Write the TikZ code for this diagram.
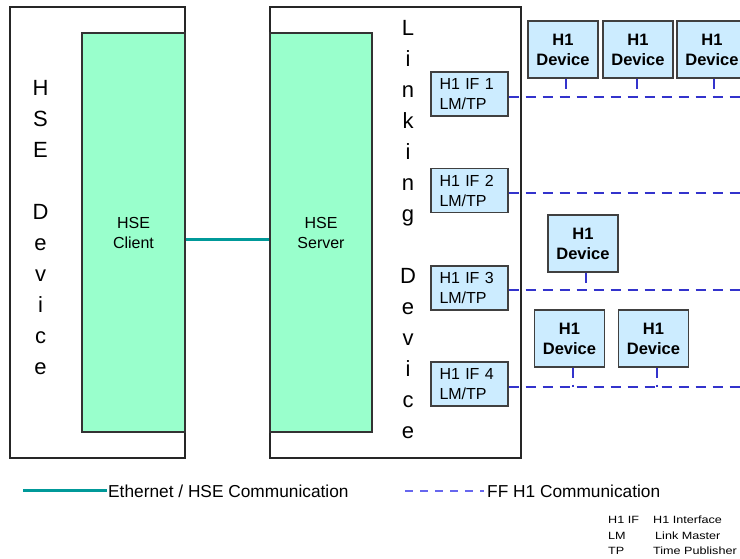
\documentclass[tikz,border=0pt]{standalone}
\usepackage{fontspec}
\setmainfont{Liberation Sans}
\newfontfamily\widesans[FakeStretch=1.2]{Liberation Sans}
\definecolor{hsegreen}{HTML}{99FFCC}
\definecolor{hoblue}{HTML}{CCECFF}
\definecolor{ethteal}{HTML}{009999}
\definecolor{hodash}{HTML}{3333CC}
\definecolor{legdash}{HTML}{6666EE}
\begin{document}
\begin{tikzpicture}[x=1pt,y=-1pt,
  outerbox/.style={draw=black!85, line width=1.3pt, inner sep=0pt},
  greenbox/.style={draw=black!80, fill=hsegreen, line width=1.3pt, inner sep=0pt, align=center, font=\fontsize{16}{20}\selectfont},
  ifbox/.style={draw=black!75, fill=hoblue, line width=1.3pt, minimum width=77pt, minimum height=44pt, text width=60pt, inner xsep=8.5pt, inner ysep=0pt, align=left, font=\fontsize{16}{20}\selectfont},
  devbox/.style={draw=black!75, fill=hoblue, line width=1.3pt, minimum width=70pt, minimum height=57pt, inner sep=0pt, align=center, font=\fontsize{16.5}{20}\selectfont\bfseries},
  vtext/.style={align=center, inner sep=0pt, font=\fontsize{22}{31}\selectfont},
  ethline/.style={draw=ethteal, line width=3pt},
  holine/.style={draw=hodash, line width=2.8pt, dash pattern=on 10pt off 7pt},
  legline/.style={draw=legdash, line width=1.6pt, dash pattern=on 8pt off 7pt},
  legtext/.style={anchor=west, inner sep=0pt, font=\fontsize{17.3}{20}\selectfont},
  smalltext/.style={anchor=west, inner sep=0pt, font=\widesans\fontsize{10.5}{12}\selectfont}
]
\useasboundingbox (0,0) rectangle (740,558);

% outer devices
\node[outerbox, minimum width=175pt, minimum height=451pt] (hsedev) at (97.5,232.5) {};
\node[outerbox, minimum width=251pt, minimum height=451pt] (linkdev) at (395.5,232.5) {};

% green boxes
\node[greenbox, minimum width=103pt, minimum height=399pt] (client) at (133.5,232.5) {HSE\\Client};
\node[greenbox, minimum width=102pt, minimum height=399pt] (server) at (321,232.5) {HSE\\Server};

% vertical labels
\node[vtext] (hselbl) at (40.5,228) {H\\S\\E\\[31pt]D\\e\\v\\i\\c\\e};
\node[vtext] (linklbl) at (408,230) {L\\i\\n\\k\\i\\n\\g\\[31pt]D\\e\\v\\i\\c\\e};

% Ethernet connection
\draw[ethline] ([yshift=-6.5pt]client.east) -- ([yshift=-6.5pt]server.west);

% H1 interfaces
\node[ifbox] (if1) at (469.5,94) {H1 IF 1\\LM/TP};
\node[ifbox] (if2) at (469.5,190.5) {H1 IF 2\\LM/TP};
\node[ifbox] (if3) at (469.5,288) {H1 IF 3\\LM/TP};
\node[ifbox] (if4) at (469.5,384) {H1 IF 4\\LM/TP};

% bus end points
\coordinate (e1) at (745,97);
\coordinate (e2) at (745,193);
\coordinate (e3) at (745,290);
\coordinate (e4) at (745,387);

\draw[holine] ([yshift=-3pt]if1.east) -- (e1);
\draw[holine] ([yshift=-2.5pt]if2.east) -- (e2);
\draw[holine] ([yshift=-2pt]if3.east) -- (e3);
\draw[holine] ([yshift=-3pt]if4.east) -- (e4);

% H1 devices
\node[devbox] (d11) at (563,49.5) {H1\\Device};
\node[devbox] (d12) at (638,49.5) {H1\\Device};
\node[devbox] (d13) at (712,49.5) {H1\\Device};
\node[devbox] (d31) at (583,243.5) {H1\\Device};
\node[devbox] (d41) at (569.5,338.5) {H1\\Device};
\node[devbox] (d42) at (653.5,338.5) {H1\\Device};

% stubs
\draw[holine] ([xshift=3pt]d11.south) -- ([xshift=3pt]d11.south |- e1);
\draw[holine] ([xshift=-1pt]d12.south) -- ([xshift=-1pt]d12.south |- e1);
\draw[holine] ([xshift=2pt]d13.south) -- ([xshift=2pt]d13.south |- e1);
\draw[holine] ([xshift=3pt]d31.south) -- ([xshift=3pt]d31.south |- e3);
\draw[holine] ([xshift=3.5pt]d41.south) -- ([xshift=3.5pt]d41.south |- e4);
\draw[holine] ([xshift=3.5pt]d42.south) -- ([xshift=3.5pt]d42.south |- e4);

% legend
\coordinate (la) at (23,490);
\coordinate (lb) at (107,490);
\draw[ethline] (la) -- (lb);
\node[legtext] (ltxt1) at (108,491) {Ethernet / HSE Communication};
\coordinate (lc) at (405,491);
\coordinate (ld) at (484,491);
\draw[legline] (lc) -- (ld);
\node[legtext] (ltxt2) at (487,491) {FF H1 Communication};

\node[smalltext] (a1) at (608,520) {H1 IF};
\node[smalltext] (b1) at (653,520) {H1 Interface};
\node[smalltext] (a2) at (608,536) {LM};
\node[smalltext] (b2) at (655,536) {Link Master};
\node[smalltext] (a3) at (608,551) {TP};
\node[smalltext] (b3) at (653,551) {Time Publisher};
\end{tikzpicture}
\end{document}
